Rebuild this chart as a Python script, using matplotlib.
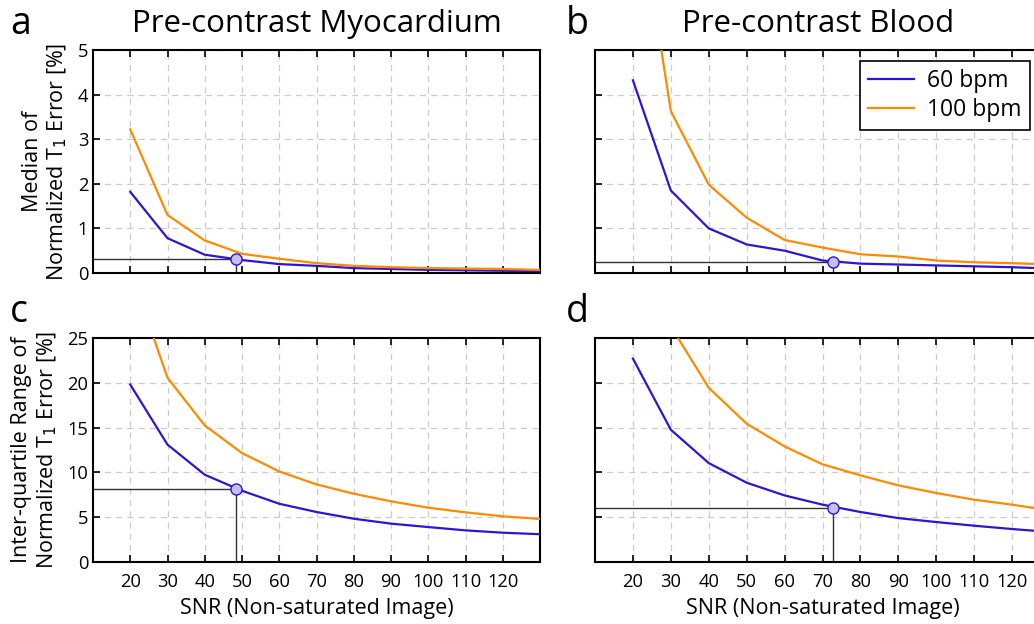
import numpy as np
import matplotlib.pyplot as plt

plt.rcParams['font.family'] = ['Open Sans', 'DejaVu Sans']

snr = [20, 30, 40, 50, 60, 70, 80, 90, 100, 110, 120, 130]

# median of normalized T1 error [%]
myo_med_60 = [1.82, 0.78, 0.41, 0.29, 0.20, 0.16, 0.11, 0.09, 0.07, 0.06, 0.05, 0.04]
myo_med_100 = [3.22, 1.30, 0.73, 0.43, 0.32, 0.22, 0.16, 0.13, 0.11, 0.10, 0.09, 0.07]
bld_med_60 = [4.32, 1.85, 1.00, 0.64, 0.50, 0.28, 0.21, 0.19, 0.17, 0.15, 0.13, 0.10]
bld_med_100 = [9.1, 3.63, 1.98, 1.24, 0.74, 0.57, 0.42, 0.37, 0.28, 0.24, 0.22, 0.19]

# inter-quartile range of normalized T1 error [%]
myo_iqr_60 = [19.8, 13.1, 9.74, 7.95, 6.5, 5.58, 4.83, 4.28, 3.9, 3.53, 3.27, 3.1]
myo_iqr_100 = [32.6, 20.56, 15.24, 12.16, 10.1, 8.66, 7.62, 6.77, 6.06, 5.54, 5.1, 4.8]
bld_iqr_60 = [22.7, 14.76, 11.04, 8.85, 7.43, 6.4, 5.58, 4.9, 4.46, 4.05, 3.68, 3.35]
bld_iqr_100 = [38.0, 26.3, 19.44, 15.43, 12.9, 10.9, 9.67, 8.55, 7.7, 6.95, 6.4, 5.75]

# highlighted operating points (snr, value)
pt_a = (48.5, 0.31)
pt_b = (72.7, 0.245)
pt_c = (48.5, 8.1)
pt_d = (72.7, 6.02)

blue = '#2f14d6'
orange = '#ff8a00'

fig = plt.figure(figsize=(10.34, 6.24), dpi=100)
W, H = 1034, 624

def make_ax(l, t, w, h):
    return fig.add_axes([l / W, (H - t - h) / H, w / W, h / H])

ax_a = make_ax(93, 50, 447, 223)
ax_b = make_ax(595, 50, 455, 223)
ax_c = make_ax(93, 338, 447, 224)
ax_d = make_ax(595, 338, 455, 224)

panels = [
    (ax_a, myo_med_60, myo_med_100, pt_a, 5, 'a'),
    (ax_b, bld_med_60, bld_med_100, pt_b, 5, 'b'),
    (ax_c, myo_iqr_60, myo_iqr_100, pt_c, 25, 'c'),
    (ax_d, bld_iqr_60, bld_iqr_100, pt_d, 25, 'd'),
]

for ax, y60, y100, pt, ymax, letter in panels:
    ax.plot(snr, y60, color=blue, lw=1.6, label='60 bpm', zorder=3)
    ax.plot(snr, y100, color=orange, lw=1.6, label='100 bpm', zorder=3)
    ax.plot([10, pt[0]], [pt[1], pt[1]], color='#333333', lw=1.0, zorder=2)
    ax.plot([pt[0], pt[0]], [0, pt[1]], color='#333333', lw=1.0, zorder=2)
    ax.plot([pt[0]], [pt[1]], 'o', ms=8, mfc='#c3c0f7', mec=blue, mew=1.0, zorder=4)
    ax.set_xlim(10, 130)
    ax.set_ylim(0, ymax)
    ax.set_xticks(range(20, 130, 10))
    ax.set_yticks(np.linspace(0, ymax, 6))
    ax.grid(True, ls=(0, (5, 4)), color='#cccccc', lw=0.9)
    ax.tick_params(direction='in', top=True, length=5, width=1.2, labelsize=13.2)
    ax.tick_params(axis='x', pad=8)
    for s in ax.spines.values():
        s.set_linewidth(1.5)
    ax.text(-0.185 if ax in (ax_a, ax_c) else -0.065, 1.2, letter,
            transform=ax.transAxes, fontsize=27, va='top', ha='left')

for ax in (ax_a, ax_b):
    ax.tick_params(labelbottom=False)
for ax in (ax_b, ax_d):
    ax.tick_params(labelleft=False)
for ax in (ax_c, ax_d):
    ax.set_xlabel('SNR (Non-saturated Image)', fontsize=15.5, labelpad=5)

ax_a.set_title('Pre-contrast Myocardium', fontsize=22.5, pad=13)
ax_b.set_title('Pre-contrast Blood', fontsize=22.5, pad=13, x=0.49)
ax_a.set_ylabel('Median of\nNormalized T$_1$ Error [%]', fontsize=15.5, labelpad=6)
ax_c.set_ylabel('Inter-quartile Range of\nNormalized T$_1$ Error [%]', fontsize=15.5, labelpad=6)

leg = ax_b.legend(loc='upper right', bbox_to_anchor=(0.956, 0.951), borderaxespad=0,
                  fontsize=16.5, fancybox=False, framealpha=1, edgecolor='black',
                  handlelength=2.0, handletextpad=0.6, borderpad=0.35, labelspacing=0.2)
leg.get_frame().set_linewidth(1.2)

fig.savefig('out.png', dpi=100)
